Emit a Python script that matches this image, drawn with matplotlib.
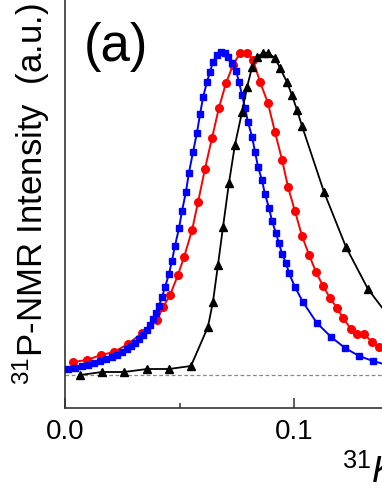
import matplotlib
matplotlib.use("Agg")
import matplotlib.pyplot as plt
from matplotlib.ticker import MultipleLocator

plt.rcParams['font.family'] = ['Liberation Sans', 'DejaVu Sans']
plt.rcParams['mathtext.fontset'] = 'custom'
plt.rcParams['mathtext.rm'] = 'Liberation Sans'
plt.rcParams['mathtext.it'] = 'Liberation Sans:italic'
plt.rcParams['mathtext.bf'] = 'Liberation Sans:bold'

# ---- data (x: Knight shift, y: intensity in a.u.) ----
blue_x = [0.0013, 0.0044, 0.0074, 0.0100, 0.0127, 0.0153, 0.0179, 0.0205, 0.0227, 0.0249,
          0.0271, 0.0288, 0.0306, 0.0323, 0.0341, 0.0358, 0.0371, 0.0384, 0.0397, 0.0410,
          0.0424, 0.0437, 0.0454, 0.0467, 0.0480, 0.0498, 0.0511, 0.0528, 0.0541, 0.0559,
          0.0576, 0.0590, 0.0603, 0.0620, 0.0633, 0.0646, 0.0664, 0.0681, 0.0699, 0.0712,
          0.0729, 0.0747, 0.0760, 0.0773, 0.0786, 0.0799, 0.0817, 0.0830, 0.0843, 0.0860,
          0.0873, 0.0891, 0.0904, 0.0921, 0.0934, 0.0948, 0.0965, 0.0978, 0.1004, 0.1039,
          0.1100, 0.1162, 0.1223, 0.1284, 0.1345, 0.1406]
blue_y = [6, 7, 9, 10, 12, 14, 16, 18, 20, 23,
          26, 29, 32, 36, 40, 45, 50, 56, 62, 69,
          78, 88, 101, 114, 129, 147, 164, 183, 202, 223,
          242, 261, 278, 293, 303, 313, 320, 323, 322, 318,
          312, 304, 293, 280, 267, 253, 238, 223, 208, 195,
          181, 167, 154, 142, 132, 121, 112, 102, 88, 73,
          52, 38, 27, 19, 14, 10]

red_x = [0.0035, 0.0096, 0.0157, 0.0214, 0.0275, 0.0336, 0.0402, 0.0428, 0.0459, 0.0493,
         0.0520, 0.0555, 0.0581, 0.0611, 0.0642, 0.0672, 0.0703, 0.0734, 0.0764, 0.0795,
         0.0821, 0.0852, 0.0886, 0.0917, 0.0948, 0.0974, 0.1004, 0.1035, 0.1066, 0.1096,
         0.1127, 0.1157, 0.1188, 0.1214, 0.1249, 0.1275, 0.1306, 0.1341, 0.1371, 0.1402]
red_y = [13, 15, 20, 23, 31, 42, 55, 68, 80, 100,
         118, 145, 173, 206, 237, 267, 292, 310, 322, 322,
         315, 293, 272, 243, 215, 188, 164, 139, 120, 103,
         89, 77, 67, 57, 46, 41, 41, 33, 28, 23]

black_x = [0.0066, 0.0162, 0.0258, 0.0358, 0.0454, 0.0550, 0.0624, 0.0646, 0.0668, 0.0690,
           0.0716, 0.0742, 0.0773, 0.0795, 0.0817, 0.0838, 0.0865, 0.0886, 0.0917, 0.0939,
           0.0969, 0.0991, 0.1013, 0.1035, 0.1131, 0.1227, 0.1323, 0.1419, 0.1515]
black_y = [0, 3, 3, 6, 6, 9, 48, 73, 110, 148,
           192, 230, 263, 288, 308, 318, 322, 322, 317, 307,
           293, 280, 265, 249, 183, 128, 86, 57, 37]

x_ticks = [0.0, 0.1]
x_ticklabels = ["0.0", "0.1"]

W, H = 382, 494
fig = plt.figure(figsize=(W / 100, H / 100), dpi=100)
ax = fig.add_axes([65 / W, 86 / H, 1 - 65 / W, 1 - 86 / H])

ax.axhline(0, color='#888888', lw=0.9, ls=(0, (3, 2)), zorder=1)

ax.plot(blue_x, blue_y, color='#0000FF', lw=1.4, marker='s', ms=4.8, zorder=3)
ax.plot(red_x, red_y, color='#FF0000', lw=1.4, marker='o', ms=5.5, zorder=2)
ax.plot(black_x, black_y, color='black', lw=1.3, marker='^', ms=5.5, zorder=4)

ax.set_xlim(0, 317 / 2290)
ax.set_ylim(-33, 375)

for s in ['top', 'right']:
    ax.spines[s].set_visible(False)
for s in ['left', 'bottom']:
    ax.spines[s].set_color('#333333')
    ax.spines[s].set_linewidth(1.2)

ax.set_xticks(x_ticks)
ax.set_xticklabels(x_ticklabels)
ax.xaxis.set_minor_locator(MultipleLocator(0.05))
ax.tick_params(axis='x', which='major', direction='in', length=7, width=1.1,
               color='#333333', labelsize=20, pad=8)
ax.tick_params(axis='x', which='minor', direction='in', length=3.6, width=1.1,
               color='#333333')
ax.set_yticks([])

fig.text(31 / W, 1 - 194 / H, "$^{31}$P-NMR Intensity  (a.u.)", rotation=90,
         ha='center', va='center', fontsize=25)
fig.text(84 / W, 1 - 47 / H, "(a)", ha='left', va='center', fontsize=38)
fig.text(342 / W, 1 - 483 / H, "$^{31}K$ (%)", ha='left', va='baseline', fontsize=26)

fig.savefig("out.png", dpi=100)
